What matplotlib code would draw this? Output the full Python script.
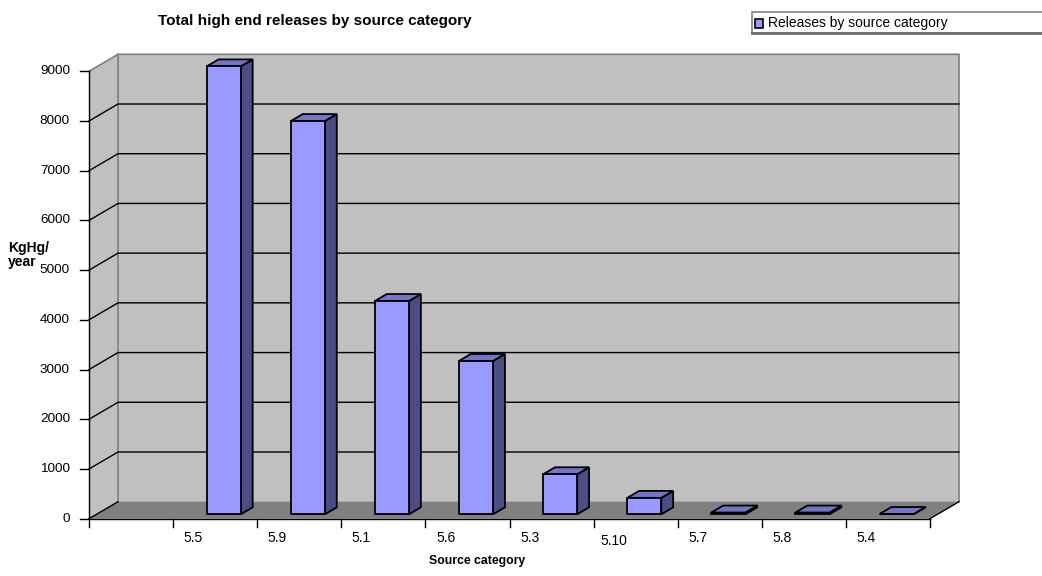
import matplotlib
matplotlib.use("Agg")
import matplotlib.pyplot as plt
from matplotlib.patches import Polygon, Rectangle

plt.rcParams['font.family'] = ['Liberation Sans', 'DejaVu Sans']

# Releases by source category (kg Hg / year)
categories = ["5.5", "5.9", "5.1", "5.6", "5.3", "5.10", "5.7", "5.8", "5.4"]
releases = [9010, 7910, 4290, 3085, 805, 330, 35, 35, 5]
y_ticks = [0, 1000, 2000, 3000, 4000, 5000, 6000, 7000, 8000, 9000]

W, H = 1042, 576
fig = plt.figure(figsize=(W / 100, H / 100), dpi=100)

# front plane of the 3-D box
x0px, x1px, y0px, y1px = 89, 930, 518.7, 71.3
ax = fig.add_axes([x0px / W, (H - y0px) / H, (x1px - x0px) / W, (y0px - y1px) / H])
n_slots = len(categories) + 1
ymax = y_ticks[-1]
ax.set_xlim(0, n_slots)
ax.set_ylim(0, ymax)
ax.axis('off')

# depth offset of the box in data units
DX = 29 / ((x1px - x0px) / n_slots)
DY = 17 / ((y0px - y1px) / ymax)

wall = '#C0C0C0'
floor = '#808080'
edge_gray = '#808080'

def poly(pts, fc, ec='none', lw=0, z=1):
    p = Polygon(pts, closed=True, facecolor=fc, edgecolor=ec, linewidth=lw,
                zorder=z, clip_on=False, joinstyle='miter')
    ax.add_patch(p)

# walls and floor
poly([(0, 0), (DX, DY), (DX, ymax + DY), (0, ymax)], wall, z=1)
poly([(DX, DY), (n_slots + DX, DY), (n_slots + DX, ymax + DY), (DX, ymax + DY)], wall, z=1)
poly([(0, 0), (n_slots, 0), (n_slots + DX, DY), (DX, DY)], floor, z=1)

# wall outlines
ax.plot([0, DX, n_slots + DX, n_slots + DX], [ymax, ymax + DY, ymax + DY, DY],
        color=edge_gray, lw=1.2, zorder=2, clip_on=False)
ax.plot([DX, DX], [DY, ymax + DY], color=edge_gray, lw=1.2, zorder=2, clip_on=False)

# gridlines on the side and back walls
for v in y_ticks[1:-1]:
    ax.plot([0, DX, n_slots + DX], [v, v + DY, v + DY], color='black', lw=1.0,
            zorder=2, clip_on=False)
ax.plot([0, DX], [0, DY], color='black', lw=1.0, zorder=2, clip_on=False)
ax.plot([n_slots, n_slots + DX], [0, DY], color='black', lw=1.0, zorder=2, clip_on=False)

# front axes
ax.plot([0, 0], [0, ymax], color='black', lw=1.0, zorder=6, clip_on=False)
ax.plot([0, n_slots], [0, 0], color='black', lw=1.0, zorder=6, clip_on=False)

px_x = (x1px - x0px) / n_slots          # pixels per slot
px_y = (y0px - y1px) / ymax             # pixels per unit
tick_len_x = 9 / px_x
tick_len_y = 8 / px_y
for v in y_ticks:
    ax.plot([-tick_len_x, 0], [v, v], color='black', lw=1.0, clip_on=False, zorder=6)
    ax.text(-tick_len_x - 10 / px_x, v, f"{v}", ha='right', va='center',
            fontsize=9.7, color='black')
for k in range(n_slots + 1):
    ax.plot([k, k], [0, -tick_len_y], color='black', lw=1.0, clip_on=False, zorder=6)

# category labels
for i, lab in enumerate(categories):
    dy_extra = 3 if len(lab) > 3 else 0
    ax.text(i + 1 + 0.24, -(19 + dy_extra) / px_y, lab, ha='center', va='center',
            fontsize=10, color='black')

# 3-D columns
front_c, top_c, side_c = '#9999FF', '#7474C8', '#4D4D85'
d0, bd = 0.26, 0.41          # depth start / depth of each column
bw, boff = 0.405, 0.31       # column width / offset within slot
for i, v in enumerate(releases):
    xl = i + 1 + boff + d0 * DX
    xr = xl + bw
    yb = d0 * DY
    yt = yb + v
    ddx, ddy = bd * DX, bd * DY
    z = 10 + i
    poly([(xr, yb), (xr + ddx, yb + ddy), (xr + ddx, yt + ddy), (xr, yt)],
         side_c, 'black', 1.3, z)
    poly([(xl, yt), (xr, yt), (xr + ddx, yt + ddy), (xl + ddx, yt + ddy)],
         top_c, 'black', 1.3, z)
    poly([(xl, yb), (xr, yb), (xr, yt), (xl, yt)], front_c, 'black', 1.3, z)

# titles
def fx(px):
    return px / W

def fy(py):
    return 1 - py / H

fig.text(fx(315), fy(20.5), "Total high end releases by source category",
         ha='center', va='center', fontsize=11, fontweight='bold')
fig.text(fx(477), fy(561), "Source category", ha='center', va='center',
         fontsize=8.8, fontweight='bold')
fig.text(fx(8), fy(248), "KgHg/", ha='left', va='center',
         fontsize=10, fontweight='bold')
fig.text(fx(8), fy(262), "year", ha='left', va='center',
         fontsize=10, fontweight='bold')

# legend box
leg = Rectangle((fx(752), fy(33)), fx(1060 - 752), fy(12.3) - fy(33),
                transform=fig.transFigure, facecolor='white', edgecolor=edge_gray,
                linewidth=1.2, clip_on=False)
fig.patches.append(leg)
fig.add_artist(plt.Line2D([fx(752), fx(1060)], [fy(33), fy(33)],
                          transform=fig.transFigure, color='#707070', lw=2.0))
mk = Rectangle((fx(755), fy(27.5)), fx(8), fy(19.5) - fy(27.5), transform=fig.transFigure,
               facecolor=front_c, edgecolor='black', linewidth=1.2)
fig.patches.append(mk)
fig.text(fx(767.5), fy(22.5), "Releases by source category", ha='left', va='center',
         fontsize=10)

fig.savefig("out.png", dpi=100)
